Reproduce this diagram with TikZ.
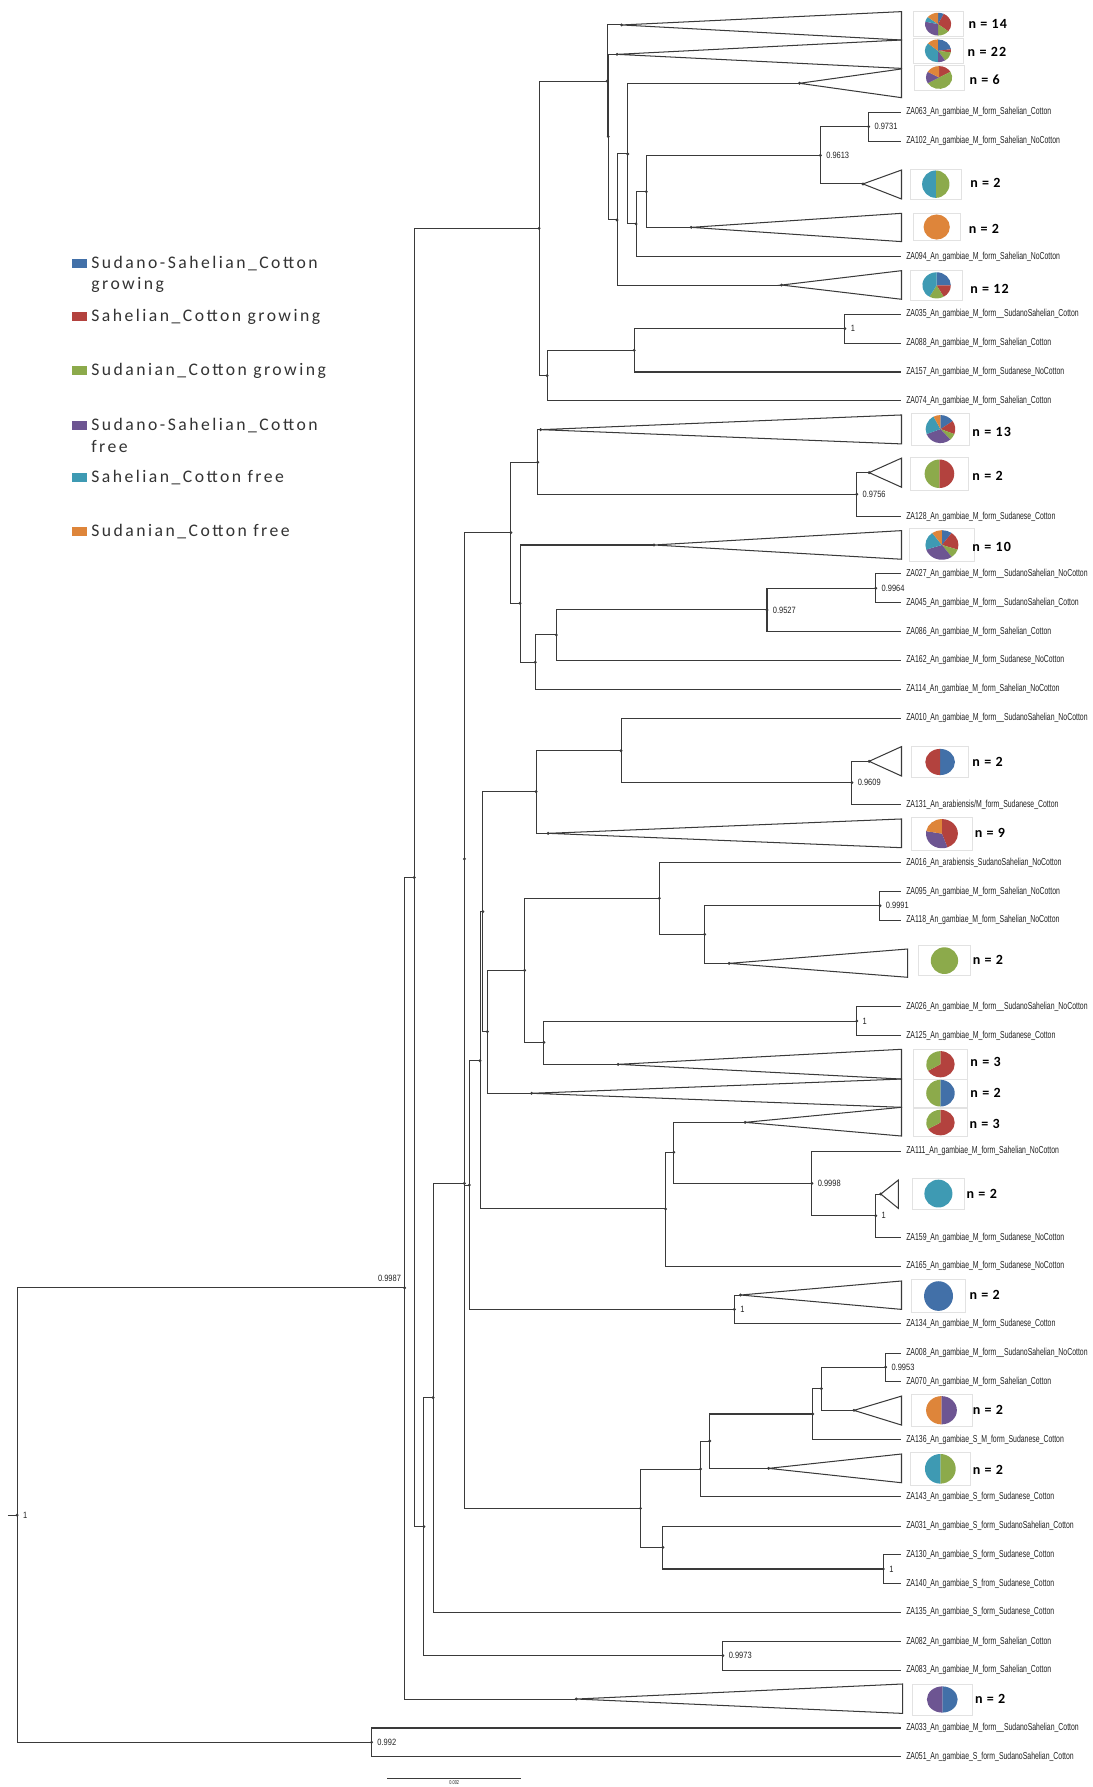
\documentclass[tikz,border=0pt]{standalone}
\usepackage{fontspec}
\setmainfont{Liberation Sans}
\newfontfamily\leaffont[FakeStretch=0.68]{Liberation Sans}
\newfontfamily\supportfont[FakeStretch=0.82]{Liberation Sans}
\newfontfamily\legendfont[LetterSpace=14]{Carlito}
\newfontfamily\countfont[LetterSpace=8]{Carlito}

\definecolor{catblue}{HTML}{4270A8}
\definecolor{catred}{HTML}{B3423E}
\definecolor{catgreen}{HTML}{8CAA4B}
\definecolor{catpurple}{HTML}{6D5592}
\definecolor{catteal}{HTML}{3E9AB3}
\definecolor{catorange}{HTML}{DE853A}
\definecolor{linegray}{HTML}{3A3A3A}
\definecolor{labelgray}{HTML}{222222}
\definecolor{boxgray}{HTML}{E2E2E2}
\definecolor{legendgray}{HTML}{333333}

% pie: centre node, x radius, y radius, total, count/colour list
\newcommand{\piechart}[5]{%
  \xdef\pieacc{0}%
  \foreach \cnt/\col in {#5}{%
    \pgfmathsetmacro\piea{\pieacc*360/#4-90}%
    \pgfmathsetmacro\pieb{(\pieacc+\cnt)*360/#4-90}%
    \fill[\col] (#1.center) -- ++(\piea:#2 and #3) arc[start angle=\piea, end angle=\pieb, x radius=#2, y radius=#3] -- cycle;
    \pgfmathsetmacro\pienext{\pieacc+\cnt}%
    \xdef\pieacc{\pienext}%
  }%
}

\begin{document}
\begin{tikzpicture}[x=1pt, y=-1pt,
  branch/.style={draw=linegray, line width=0.9pt},
  leaf/.style={anchor=west, inner xsep=4pt, inner ysep=0pt, text=labelgray, font=\leaffont\fontsize{8.9}{9}\selectfont},
  support/.style={anchor=west, inner sep=0pt, xshift=5pt, text=labelgray, font=\supportfont\fontsize{8}{8}\selectfont},
  count/.style={anchor=west, inner sep=0pt, font=\countfont\bfseries\fontsize{12.3}{13}\selectfont},
  piebox/.style={draw=boxgray, line width=0.5pt, inner sep=0pt},
  legmark/.style={inner sep=0pt, minimum width=13, minimum height=8},
  legtext/.style={anchor=west, inner sep=0pt, text=legendgray, font=\legendfont\fontsize{15.5}{17}\selectfont}]

\useasboundingbox (0,0) rectangle (959,1568);
\fill[white] (0,0) rectangle (959,1568);

% Legend
\node[legmark, fill=catblue] (mk1) at (70,231) {};
\node[legtext] (lg1) at (80,231) {Sudano-Sahelian\_Cotton};
\node[legtext] (lg1b) at (80,249.6) {growing};
\node[legmark, fill=catred] (mk2) at (70,278) {};
\node[legtext] (lg2) at (80,278) {Sahelian\_Cotton growing};
\node[legmark, fill=catgreen] (mk3) at (70,325.2) {};
\node[legtext] (lg3) at (80,325.2) {Sudanian\_Cotton growing};
\node[legmark, fill=catpurple] (mk4) at (70,373) {};
\node[legtext] (lg4) at (80,373) {Sudano-Sahelian\_Cotton};
\node[legtext] (lg4b) at (80,391.5) {free};
\node[legmark, fill=catteal] (mk5) at (70,419) {};
\node[legtext] (lg5) at (80,419) {Sahelian\_Cotton free};
\node[legmark, fill=catorange] (mk6) at (70,466) {};
\node[legtext] (lg6) at (80,466) {Sudanian\_Cotton free};

% Internal nodes
\coordinate (stub) at (7,1329.4);
\coordinate (root) at (15,1329.4);
\coordinate (AZ) at (355,1130);
\coordinate (BB) at (326,1528.8);
\coordinate (BA) at (363.5,769.9);
\coordinate (N1) at (473,200.3);
\coordinate (A) at (532.7,71.1);
\coordinate (B) at (533.7,119.9);
\coordinate (C) at (541.4,193);
\coordinate (D) at (550.8,135.1);
\coordinate (E) at (558.1,196.5);
\coordinate (F) at (567.1,168.2);
\coordinate (G) at (719.8,136.3);
\coordinate (H) at (762.2,111.1);
\coordinate (I) at (480,329.6);
\coordinate (J) at (556.5,307.4);
\coordinate (K) at (741.3,288.4);
\coordinate (AU) at (372,1339.5);
\coordinate (AW) at (380,1226.3);
\coordinate (AX) at (407.5,1038.3);
\coordinate (T) at (407.5,753.7);
\coordinate (L2) at (448.3,467.3);
\coordinate (M) at (471.8,405.6);
\coordinate (O) at (751.8,433.7);
\coordinate (N) at (456.3,529.3);
\coordinate (P) at (469.7,581.1);
\coordinate (Q) at (488.1,557.1);
\coordinate (R) at (673,535.2);
\coordinate (S) at (768.4,516.2);
\coordinate (AK) at (411.8,1039.8);
\coordinate (AF) at (421.2,930.7);
\coordinate (X) at (423.7,799.9);
\coordinate (U) at (470.4,694.6);
\coordinate (V) at (544.9,658.7);
\coordinate (W) at (747.5,686.7);
\coordinate (Y) at (427.7,905.2);
\coordinate (Z) at (460.3,851.4);
\coordinate (AA) at (578.5,788.2);
\coordinate (AB) at (618.3,819.8);
\coordinate (AC) at (772.1,794.7);
\coordinate (AD) at (477.3,914.6);
\coordinate (AE) at (751.8,895.9);
\coordinate (AG) at (584,1060.8);
\coordinate (AH) at (591.2,1011.1);
\coordinate (AI) at (712.4,1038.3);
\coordinate (AJ) at (768.4,1066.7);
\coordinate (AL) at (644.4,1148.9);
\coordinate (AR) at (562,1323.5);
\coordinate (AQ) at (614.7,1289);
\coordinate (AP) at (622.7,1264.4);
\coordinate (AM) at (713.1,1240.7);
\coordinate (AN) at (720.7,1218.5);
\coordinate (AO) at (777.1,1199.5);
\coordinate (AS) at (581.7,1357.7);
\coordinate (AT) at (775.1,1376.7);
\coordinate (AV) at (634.3,1452.7);

% Collapsed clade apexes
\coordinate (t14) at (545.4,21.9);
\coordinate (t22) at (541.4,47.7);
\coordinate (t6) at (701.5,73.1);
\coordinate (tTG) at (757.2,161.4);
\coordinate (tO) at (606.5,199.5);
\coordinate (t12) at (685.8,250.1);
\coordinate (t13) at (474.4,377);
\coordinate (tGR) at (762.6,414.7);
\coordinate (t10) at (573.8,478.2);
\coordinate (tRB) at (762.6,668);
\coordinate (t9) at (480.9,731.2);
\coordinate (tG) at (639.7,845.3);
\coordinate (t3a) at (542.4,933.9);
\coordinate (tGB) at (466.4,959.3);
\coordinate (t3b) at (653.8,984.8);
\coordinate (tT) at (772.8,1047.7);
\coordinate (tB) at (649.8,1136.3);
\coordinate (tOP) at (749.3,1237.5);
\coordinate (tTG2) at (674.4,1288.4);
\coordinate (tPB) at (505.6,1490.8);

% Leaves
\node[leaf] (za063) at (791,98.6) {ZA063\_An\_gambiae\_M\_form\_Sahelian\_Cotton};
\node[leaf] (za102) at (791,124) {ZA102\_An\_gambiae\_M\_form\_Sahelian\_NoCotton};
\node[leaf] (za094) at (791,225.2) {ZA094\_An\_gambiae\_M\_form\_Sahelian\_NoCotton};
\node[leaf] (za035) at (791,275.8) {ZA035\_An\_gambiae\_M\_form\_\_SudanoSahelian\_Cotton};
\node[leaf] (za088) at (791,301.2) {ZA088\_An\_gambiae\_M\_form\_Sahelian\_Cotton};
\node[leaf] (za157) at (791,326.4) {ZA157\_An\_gambiae\_M\_form\_Sudanese\_NoCotton};
\node[leaf] (za074) at (791,351.6) {ZA074\_An\_gambiae\_M\_form\_Sahelian\_Cotton};
\node[leaf] (za128) at (791,453.3) {ZA128\_An\_gambiae\_M\_form\_Sudanese\_Cotton};
\node[leaf] (za027) at (791,503.6) {ZA027\_An\_gambiae\_M\_form\_\_SudanoSahelian\_NoCotton};
\node[leaf] (za045) at (791,528.7) {ZA045\_An\_gambiae\_M\_form\_\_SudanoSahelian\_Cotton};
\node[leaf] (za086) at (791,554.2) {ZA086\_An\_gambiae\_M\_form\_Sahelian\_Cotton};
\node[leaf] (za162) at (791,579.3) {ZA162\_An\_gambiae\_M\_form\_Sudanese\_NoCotton};
\node[leaf] (za114) at (791,604.8) {ZA114\_An\_gambiae\_M\_form\_Sahelian\_NoCotton};
\node[leaf] (za010) at (791,630.3) {ZA010\_An\_gambiae\_M\_form\_\_SudanoSahelian\_NoCotton};
\node[leaf] (za131) at (791,706.3) {ZA131\_An\_arabiensis/M\_form\_Sudanese\_Cotton};
\node[leaf] (za016) at (791,756.9) {ZA016\_An\_arabiensis\_SudanoSahelian\_NoCotton};
\node[leaf] (za095) at (791,782.4) {ZA095\_An\_gambiae\_M\_form\_Sahelian\_NoCotton};
\node[leaf] (za118) at (791,807.5) {ZA118\_An\_gambiae\_M\_form\_Sahelian\_NoCotton};
\node[leaf] (za026) at (791,883.3) {ZA026\_An\_gambiae\_M\_form\_\_SudanoSahelian\_NoCotton};
\node[leaf] (za125) at (791,908.7) {ZA125\_An\_gambiae\_M\_form\_Sudanese\_Cotton};
\node[leaf] (za111) at (791,1010) {ZA111\_An\_gambiae\_M\_form\_Sahelian\_NoCotton};
\node[leaf] (za159) at (791,1086) {ZA159\_An\_gambiae\_M\_form\_Sudanese\_NoCotton};
\node[leaf] (za165) at (791,1110.9) {ZA165\_An\_gambiae\_M\_form\_Sudanese\_NoCotton};
\node[leaf] (za134) at (791,1161.7) {ZA134\_An\_gambiae\_M\_form\_Sudanese\_Cotton};
\node[leaf] (za008) at (791,1187.2) {ZA008\_An\_gambiae\_M\_form\_\_SudanoSahelian\_NoCotton};
\node[leaf] (za070) at (791,1212.3) {ZA070\_An\_gambiae\_M\_form\_Sahelian\_Cotton};
\node[leaf] (za136) at (791,1263) {ZA136\_An\_gambiae\_S\_M\_form\_Sudanese\_Cotton};
\node[leaf] (za143) at (791,1313.5) {ZA143\_An\_gambiae\_S\_form\_Sudanese\_Cotton};
\node[leaf] (za031) at (791,1339.3) {ZA031\_An\_gambiae\_S\_form\_SudanoSahelian\_Cotton};
\node[leaf] (za130) at (791,1364.4) {ZA130\_An\_gambiae\_S\_form\_Sudanese\_Cotton};
\node[leaf] (za140) at (791,1389.6) {ZA140\_An\_gambiae\_S\_from\_Sudanese\_Cotton};
\node[leaf] (za135) at (791,1414.7) {ZA135\_An\_gambiae\_S\_form\_Sudanese\_Cotton};
\node[leaf] (za082) at (791,1440.5) {ZA082\_An\_gambiae\_M\_form\_Sahelian\_Cotton};
\node[leaf] (za083) at (791,1465.6) {ZA083\_An\_gambiae\_M\_form\_Sahelian\_Cotton};
\node[leaf] (za033) at (791,1516.2) {ZA033\_An\_gambiae\_M\_form\_\_SudanoSahelian\_Cotton};
\node[leaf] (za051) at (791,1541.4) {ZA051\_An\_gambiae\_S\_form\_SudanoSahelian\_Cotton};

% Branches
\draw[branch] (stub) -- (root);
\draw[branch] (root) |- (AZ) (root) |- (BB);
\draw[branch] (BB) |- (za033.west) (BB) |- (za051.west);
\draw[branch] (AZ) |- (BA) (AZ) |- (tPB);
\draw[branch] (BA) |- (N1) (BA) |- (AU);
\draw[branch] (N1) |- (A) (N1) |- (I);
\draw[branch] (A) |- (t14) (A) |- (B);
\draw[branch] (B) |- (t22) (B) |- (C);
\draw[branch] (C) |- (D) (C) |- (t12);
\draw[branch] (D) |- (t6) (D) |- (E);
\draw[branch] (E) |- (F) (E) |- (za094.west);
\draw[branch] (F) |- (G) (F) |- (tO);
\draw[branch] (G) |- (H) (G) |- (tTG);
\draw[branch] (H) |- (za063.west) (H) |- (za102.west);
\draw[branch] (I) |- (J) (I) |- (za074.west);
\draw[branch] (J) |- (K) (J) |- (za157.west);
\draw[branch] (K) |- (za035.west) (K) |- (za088.west);
\draw[branch] (AU) |- (AW) (AU) |- (AV);
\draw[branch] (AW) |- (AX) (AW) |- (za135.west);
\draw[branch] (AX) |- (T) (AX) |- (AR);
\draw[branch] (T) |- (L2) (T) |- (AK);
\draw[branch] (L2) |- (M) (L2) |- (N);
\draw[branch] (M) |- (t13) (M) |- (O);
\draw[branch] (O) |- (tGR) (O) |- (za128.west);
\draw[branch] (N) |- (t10) (N) |- (P);
\draw[branch] (P) |- (Q) (P) |- (za114.west);
\draw[branch] (Q) |- (R) (Q) |- (za162.west);
\draw[branch] (R) |- (S) (R) |- (za086.west);
\draw[branch] (S) |- (za027.west) (S) |- (za045.west);
\draw[branch] (AK) |- (AF) (AK) |- (AL);
\draw[branch] (AF) |- (X) (AF) |- (AG);
\draw[branch] (X) |- (U) (X) |- (Y);
\draw[branch] (U) |- (V) (U) |- (t9);
\draw[branch] (V) |- (za010.west) (V) |- (W);
\draw[branch] (W) |- (tRB) (W) |- (za131.west);
\draw[branch] (Y) |- (Z) (Y) |- (tGB);
\draw[branch] (Z) |- (AA) (Z) |- (AD);
\draw[branch] (AA) |- (za016.west) (AA) |- (AB);
\draw[branch] (AB) |- (AC) (AB) |- (tG);
\draw[branch] (AC) |- (za095.west) (AC) |- (za118.west);
\draw[branch] (AD) |- (AE) (AD) |- (t3a);
\draw[branch] (AE) |- (za026.west) (AE) |- (za125.west);
\draw[branch] (AG) |- (AH) (AG) |- (za165.west);
\draw[branch] (AH) |- (t3b) (AH) |- (AI);
\draw[branch] (AI) |- (za111.west) (AI) |- (AJ);
\draw[branch] (AJ) |- (tT) (AJ) |- (za159.west);
\draw[branch] (AL) |- (tB) (AL) |- (za134.west);
\draw[branch] (AR) |- (AQ) (AR) |- (AS);
\draw[branch] (AQ) |- (AP) (AQ) |- (za143.west);
\draw[branch] (AP) |- (AM) (AP) |- (tTG2);
\draw[branch] (AM) |- (AN) (AM) |- (za136.west);
\draw[branch] (AN) |- (AO) (AN) |- (tOP);
\draw[branch] (AO) |- (za008.west) (AO) |- (za070.west);
\draw[branch] (AS) |- (za031.west) (AS) |- (AT);
\draw[branch] (AT) |- (za130.west) (AT) |- (za140.west);
\draw[branch] (AV) |- (za082.west) (AV) |- (za083.west);

% Collapsed clades
\draw[branch] (t14) -- (791,10.2) -- (791,35.1) -- cycle;
\draw[branch] (t22) -- (791,35.1) -- (791,60) -- cycle;
\draw[branch] (t6) -- (791,60.5) -- (791,85.7) -- cycle;
\draw[branch] (tTG) -- (791,149.2) -- (791,174.6) -- cycle;
\draw[branch] (tO) -- (791,187.2) -- (791,212) -- cycle;
\draw[branch] (t12) -- (791,237.5) -- (791,262.6) -- cycle;
\draw[branch] (t13) -- (791,364.1) -- (791,389.5) -- cycle;
\draw[branch] (tGR) -- (791,402) -- (791,427.5) -- cycle;
\draw[branch] (t10) -- (791,465.6) -- (791,490.7) -- cycle;
\draw[branch] (tRB) -- (791,655.1) -- (791,680.9) -- cycle;
\draw[branch] (t9) -- (791,718.6) -- (791,743.8) -- cycle;
\draw[branch] (tG) -- (796.3,832.7) -- (796.3,857.5) -- cycle;
\draw[branch] (t3a) -- (791,920.7) -- (791,946.8) -- cycle;
\draw[branch] (tGB) -- (791,946.8) -- (791,971.6) -- cycle;
\draw[branch] (t3b) -- (791,971.6) -- (791,996.8) -- cycle;
\draw[branch] (tT) -- (788.3,1035.4) -- (788.3,1060.3) -- cycle;
\draw[branch] (tB) -- (791,1124) -- (791,1148.9) -- cycle;
\draw[branch] (tOP) -- (791,1225) -- (791,1250.4) -- cycle;
\draw[branch] (tTG2) -- (791,1275.8) -- (791,1301) -- cycle;
\draw[branch] (tPB) -- (791.9,1477.6) -- (791.9,1503.4) -- cycle;

% Node dots
\foreach \n in {root,AZ,BB,BA,N1,A,B,C,D,E,F,G,H,I,J,K,AU,AW,AX,T,L2,M,O,N,P,Q,R,S,AK,AF,X,U,V,W,Y,Z,AA,AB,AC,AD,AE,AG,AH,AI,AJ,AL,AR,AQ,AP,AM,AN,AO,AS,AT,AV,t14,t22,t6,tTG,tO,t12,t13,tGR,t10,tRB,t9,tG,t3a,tGB,t3b,tT,tB,tOP,tTG2,tPB}
  \fill[linegray] (\n) circle[radius=1.4];

% Support values
\node[support] (sroot) at (root) {1};
\node[support, anchor=south east, xshift=0pt] (sAZ) at (347,1124.5) {0.9987};
\node[support] (sBB) at (BB) {0.992};
\node[support] (sG) at (G) {0.9613};
\node[support] (sH) at (H) {0.9731};
\node[support] (sK) at (K) {1};
\node[support] (sO) at (O) {0.9756};
\node[support] (sR) at (R) {0.9527};
\node[support] (sS) at (S) {0.9964};
\node[support] (sW) at (W) {0.9609};
\node[support] (sAC) at (AC) {0.9991};
\node[support] (sAE) at (AE) {1};
\node[support] (sAI) at (AI) {0.9998};
\node[support] (sAJ) at (AJ) {1};
\node[support] (sAL) at (AL) {1};
\node[support] (sAO) at (AO) {0.9953};
\node[support] (sAT) at (AT) {1};
\node[support] (sAV) at (AV) {0.9973};

% Pies with counts
\node[piebox, minimum width=44, minimum height=22] (b14) at (823.1,21.2) {};
\piechart{b14}{11.5}{10}{14}{1/catblue,4/catred,2/catgreen,4/catpurple,1/catteal,2/catorange}
\node[count] (n14) at (849.6,21.4) {n = 14};
\node[piebox, minimum width=44, minimum height=22] (b22) at (823,44.6) {};
\piechart{b22}{11.5}{10}{22}{5/catblue,1/catred,3/catgreen,2/catpurple,8/catteal,3/catorange}
\node[count] (n22) at (848.9,45.3) {n = 22};
\node[piebox, minimum width=44, minimum height=22] (b6) at (824,68) {};
\piechart{b6}{11.5}{10}{6}{1/catred,3/catgreen,1/catpurple,1/catorange}
\node[count] (n6) at (850.6,69.6) {n = 6};
\node[piebox, minimum width=44.4, minimum height=26] (bTG) at (821.1,161.6) {};
\piechart{bTG}{12}{12}{2}{1/catgreen,1/catteal}
\node[count] (nTG) at (851.2,160.5) {n = 2};
\node[piebox, minimum width=40.7, minimum height=24] (bO) at (821.9,199.2) {};
\piechart{bO}{11.5}{11}{2}{2/catorange}
\node[count] (nO) at (849.9,201) {n = 2};
\node[piebox, minimum width=45.7, minimum height=25.7] (b12) at (821.8,250.4) {};
\piechart{b12}{12.5}{11.5}{12}{3/catblue,2/catred,2/catgreen,5/catteal}
\node[count] (n12) at (851.2,253.6) {n = 12};
\node[piebox, minimum width=50.6, minimum height=27.8] (b13) at (825.2,376.5) {};
\piechart{b13}{13}{12.3}{13}{2/catblue,2/catred,1/catgreen,4/catpurple,3/catteal,1/catorange}
\node[count] (n13) at (853.1,379.3) {n = 13};
\node[piebox, minimum width=51, minimum height=28.4] (bGR) at (824.3,415.7) {};
\piechart{bGR}{13}{12.5}{2}{1/catred,1/catgreen}
\node[count] (nGR) at (853.1,417.3) {n = 2};
\node[piebox, minimum width=56.8, minimum height=29.3] (b10) at (826.5,478.2) {};
\piechart{b10}{14.5}{13}{10}{1/catblue,2/catred,1/catgreen,3/catpurple,2/catteal,1/catorange}
\node[count] (n10) at (853.1,479.9) {n = 10};
\node[piebox, minimum width=49.9, minimum height=26.9] (bRB) at (824.9,668.6) {};
\piechart{bRB}{13}{11.5}{2}{1/catblue,1/catred}
\node[count] (nRB) at (853.1,668.6) {n = 2};
\node[piebox, minimum width=53.1, minimum height=28.6] (b9) at (826.5,731.5) {};
\piechart{b9}{14}{12.8}{9}{4/catred,3/catpurple,2/catorange}
\node[count] (n9) at (855.2,731.2) {n = 9};
\node[piebox, minimum width=45.3, minimum height=26.2] (bG) at (828.7,842.9) {};
\piechart{bG}{12}{11.7}{2}{2/catgreen}
\node[count] (nG) at (853.4,842.3) {n = 2};
\node[piebox, minimum width=47, minimum height=26.1] (b3a) at (825.2,933.8) {};
\piechart{b3a}{12.5}{11.5}{3}{2/catred,1/catgreen}
\node[count] (n3a) at (851.3,932.1) {n = 3};
\node[piebox, minimum width=47, minimum height=24.8] (bGB) at (825.2,959.2) {};
\piechart{bGB}{12.5}{11.7}{2}{1/catblue,1/catgreen}
\node[count] (nGB) at (851.3,959.3) {n = 2};
\node[piebox, minimum width=47, minimum height=24.9] (b3b) at (825.2,985) {};
\piechart{b3b}{12.5}{11.2}{3}{2/catred,1/catgreen}
\node[count] (n3b) at (850.5,986.6) {n = 3};
\node[piebox, minimum width=45.6, minimum height=27.7] (bT) at (823.4,1047.3) {};
\piechart{bT}{12.3}{12.2}{2}{2/catteal}
\node[count] (nT) at (848,1047.7) {n = 2};
\node[piebox, minimum width=47.1, minimum height=29.2] (bB) at (823.5,1137.2) {};
\piechart{bB}{12.7}{13}{2}{2/catblue}
\node[count] (nB) at (850.5,1136.3) {n = 2};
\node[piebox, minimum width=53.8, minimum height=27.8] (bOP) at (826.1,1237.4) {};
\piechart{bOP}{13.5}{12.4}{2}{1/catpurple,1/catorange}
\node[count] (nOP) at (853.4,1236.9) {n = 2};
\node[piebox, minimum width=52.5, minimum height=28.4] (bTG2) at (825.1,1288.8) {};
\piechart{bTG2}{13.5}{13}{2}{1/catgreen,1/catteal}
\node[count] (nTG2) at (853.4,1289.6) {n = 2};
\node[piebox, minimum width=53.1, minimum height=27.2] (bPB) at (826.8,1491.2) {};
\piechart{bPB}{13.5}{11.5}{2}{1/catblue,1/catpurple}
\node[count] (nPB) at (855.4,1490.8) {n = 2};

% Scale bar
\coordinate (sb1) at (339.7,1560.4);
\coordinate (sb2) at (457.5,1560.4);
\draw[branch, line width=0.6pt] (sb1) -- (sb2);
\node[anchor=north, inner sep=0pt, text=labelgray, font=\leaffont\fontsize{5}{5}\selectfont] (sbl) at (398.6,1562.5) {0.002};

\end{tikzpicture}
\end{document}
